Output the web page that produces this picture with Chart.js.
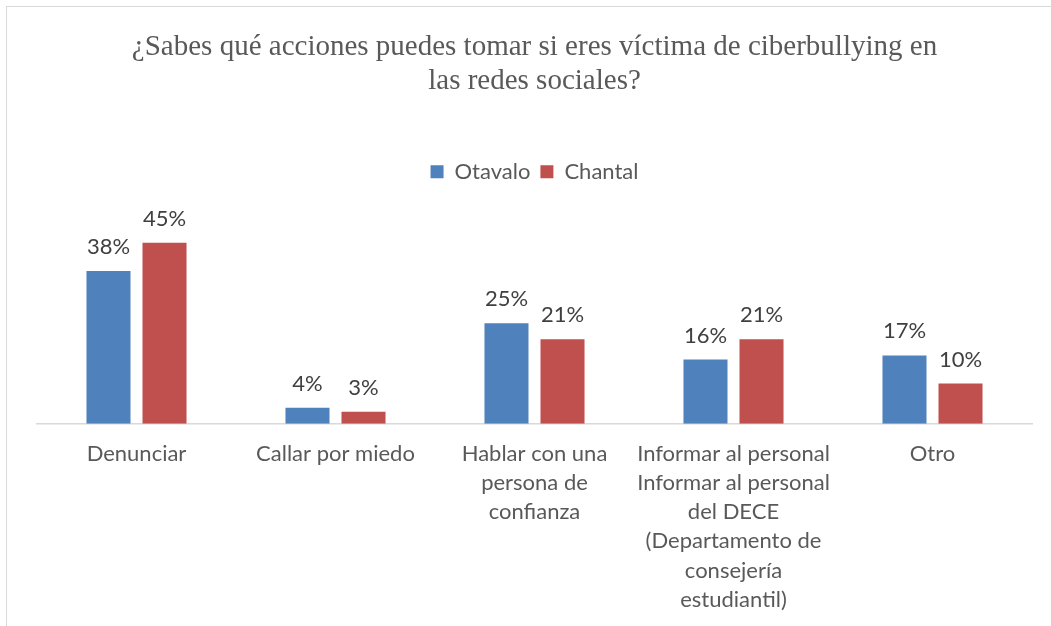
<!DOCTYPE html>
<html>
<head>
<meta charset="utf-8">
<script src="https://cdn.jsdelivr.net/npm/chart.js@4/dist/chart.umd.min.js"></script>
<style>
html,body{margin:0;padding:0;background:#fff;overflow:hidden;width:1051px;height:626px;}
#wrap{position:absolute;left:6px;top:6px;width:1056px;height:640px;border-left:1px solid #d9d9d9;border-top:1px solid #d9d9d9;}
canvas{display:block;}
</style>
</head>
<body>
<div id="wrap"><canvas id="c" width="1055" height="623"></canvas></div>
<script>
const titleLines = ["¿Sabes qué acciones puedes tomar si eres víctima de ciberbullying en", "las redes sociales?"];
const categories = [
  "Denunciar",
  "Callar por miedo",
  ["Hablar con una", "persona de", "confianza"],
  ["Informar al personal", "Informar al personal", "del DECE", "(Departamento de", "consejería", "estudiantil)"],
  "Otro"
];
const seriesNames = ["Otavalo", "Chantal"];
const otavalo = [38, 4, 25, 16, 17];
const chantal = [45, 3, 21, 21, 10];
const colors = ["#4F81BD", "#C0504D"];

const valueLabels = {
  id: 'valueLabels',
  afterDatasetsDraw(chart) {
    const ctx = chart.ctx;
    ctx.save();
    ctx.font = '22px Lato';
    ctx.fillStyle = '#404040';
    ctx.textAlign = 'center';
    ctx.textBaseline = 'middle';
    chart.data.datasets.forEach((ds, i) => {
      chart.getDatasetMeta(i).data.forEach((bar, j) => {
        ctx.fillText(ds.data[j] + '%', bar.x, bar.y - 24);
      });
    });
    ctx.restore();
  }
};

const legendSpacer = {
  id: 'legendSpacer',
  beforeInit(chart) {
    const lg = chart.legend;
    if (!lg) return;
    const origFit = lg.fit;
    lg.fit = function () {
      origFit.call(this);
      this.height += 30;
    };
  }
};

new Chart(document.getElementById('c'), {
  type: 'bar',
  data: {
    labels: categories,
    datasets: [
      { label: seriesNames[0], data: otavalo, backgroundColor: colors[0] },
      { label: seriesNames[1], data: chantal, backgroundColor: colors[1] }
    ]
  },
  options: {
    responsive: false,
    animation: false,
    devicePixelRatio: 1,
    categoryPercentage: 0.563,
    barPercentage: 0.786,
    layout: { padding: { left: 30, right: 30, top: 8, bottom: 0 } },
    plugins: {
      title: {
        display: true,
        text: titleLines,
        color: '#595959',
        font: { family: 'Liberation Serif', size: 29, weight: 'normal', lineHeight: 1.15 },
        padding: { top: 16, bottom: 53 }
      },
      legend: {
        display: true,
        position: 'top',
        labels: {
          color: '#595959',
          font: { family: 'Lato', size: 22 },
          boxWidth: 13,
          boxHeight: 13,
          padding: 10
        }
      },
      tooltip: { enabled: false }
    },
    scales: {
      x: {
        grid: { display: false, drawTicks: false },
        border: { display: true, color: '#d9d9d9', width: 1.5 },
        ticks: {
          color: '#595959',
          font: { family: 'Lato', size: 22, lineHeight: 1.32 },
          padding: 16,
          maxRotation: 0,
          autoSkip: false
        }
      },
      y: {
        display: false,
        min: 0,
        max: 50
      }
    }
  },
  plugins: [legendSpacer, valueLabels]
});
</script>
</body>
</html>
